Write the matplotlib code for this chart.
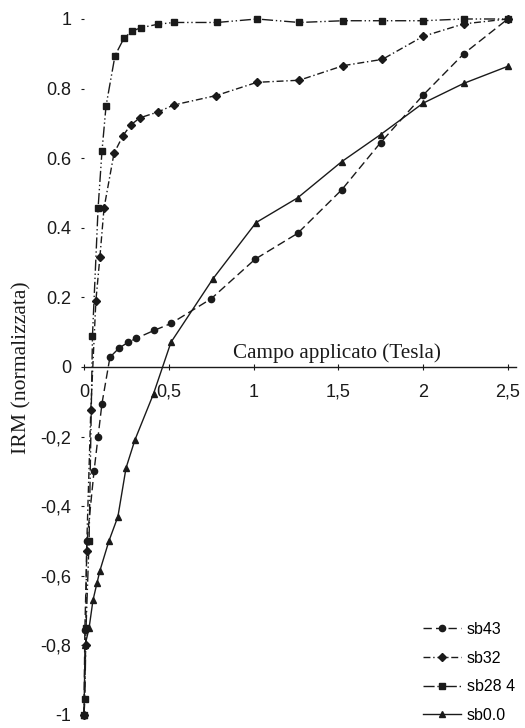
import matplotlib
matplotlib.use("Agg")
from matplotlib import pyplot as plt

# campo applicato (Tesla) / IRM normalizzata
x_sb43 = [0, 0.005, 0.018, 0.059, 0.083, 0.106, 0.153, 0.206, 0.26, 0.307, 0.413, 0.513,
          0.75, 1.01, 1.26, 1.52, 1.75, 2.0, 2.24, 2.5]
y_sb43 = [-1.0, -0.755, -0.5, -0.3, -0.2, -0.105, 0.028, 0.054, 0.071, 0.082, 0.105, 0.125,
          0.196, 0.31, 0.384, 0.509, 0.645, 0.781, 0.9, 1.0]

x_sb32 = [0, 0.01, 0.015, 0.04, 0.07, 0.094, 0.118, 0.177, 0.23, 0.277, 0.33, 0.437, 0.53,
          0.78, 1.02, 1.27, 1.53, 1.76, 2.0, 2.24, 2.5]
y_sb32 = [-1.0, -0.8, -0.53, -0.125, 0.19, 0.317, 0.456, 0.614, 0.665, 0.696, 0.716, 0.733,
          0.753, 0.78, 0.818, 0.824, 0.866, 0.884, 0.95, 0.986, 1.0]

x_sb28 = [0, 0.005, 0.012, 0.03, 0.05, 0.083, 0.106, 0.13, 0.183, 0.236, 0.283, 0.336, 0.437,
          0.53, 0.785, 1.02, 1.27, 1.53, 1.76, 2.0, 2.24, 2.5]
y_sb28 = [-1.0, -0.955, -0.75, -0.5, 0.09, 0.456, 0.62, 0.75, 0.895, 0.945, 0.965, 0.975,
          0.985, 0.99, 0.99, 1.0, 0.99, 0.995, 0.995, 0.995, 1.0, 1.0]

x_sb00 = [0, 0.006, 0.03, 0.053, 0.077, 0.094, 0.147, 0.2, 0.248, 0.3, 0.41, 0.513, 0.76,
          1.015, 1.26, 1.52, 1.75, 2.0, 2.24, 2.5]
y_sb00 = [-1.0, -0.8, -0.75, -0.67, -0.62, -0.585, -0.5, -0.43, -0.29, -0.21, -0.077, 0.071,
          0.253, 0.415, 0.486, 0.59, 0.668, 0.758, 0.815, 0.864]

xticks = [0, 0.5, 1, 1.5, 2, 2.5]
xtick_labels = ["0", "0,5", "1", "1,5", "2", "2,5"]
yticks = [1, 0.8, 0.6, 0.4, 0.2, 0, -0.2, -0.4, -0.6, -0.8, -1]
ytick_labels = ["1", "0.8", "0.6", "0.4", "0.2", "0", "-0,2", "-0,4", "-0,6", "-0,8", "-1"]

W, H = 525, 728
fig = plt.figure(figsize=(W / 100, H / 100), dpi=100)
ax = fig.add_axes([60 / W, 1 / H, 460 / W, 726 / H])
ax.set_xlim(-0.1416, 2.572)
ax.set_ylim(-1.0345, 1.0517)

ink = "#1a1a1a"
ax.plot(x_sb43, y_sb43, color=ink, lw=1.0, ls=(0, (6, 3)), marker="o", ms=4.5, label="sb43")
ax.plot(x_sb32, y_sb32, color=ink, lw=1.0, ls=(0, (5, 2, 1, 2)), marker="D", ms=4, label="sb32")
ax.plot(x_sb28, y_sb28, color=ink, lw=1.0, ls=(0, (8, 2, 1, 2, 1, 2)), marker="s", ms=4.5,
        label="sb28 4")
ax.plot(x_sb00, y_sb00, color=ink, lw=1.0, ls="-", marker="^", ms=5, label="sb0.0")

for s in ["top", "right"]:
    ax.spines[s].set_visible(False)
ax.spines["left"].set_position(("data", 0))
ax.spines["left"].set_visible(False)
ax.spines["bottom"].set_position(("data", 0))
ax.spines["bottom"].set_bounds(0, 2.55)
ax.spines["bottom"].set_color(ink)
ax.spines["bottom"].set_linewidth(1.0)

ax.set_xticks(xticks, xtick_labels, family="Liberation Sans", fontsize=13)
ax.set_yticks(yticks, ytick_labels, family="Liberation Sans", fontsize=13)
ax.tick_params(axis="x", direction="inout", length=4, width=0.8, pad=10, colors=ink)
ax.tick_params(axis="y", direction="out", length=2, width=0.8, pad=7, colors=ink)

ax.text(1.49, 0.012, "Campo applicato (Tesla)", family="Liberation Serif", fontsize=15.2,
        ha="center", va="bottom", color=ink)
fig.text(22 / W, 1 - 368 / H, "IRM (normalizzata)", family="Liberation Serif", fontsize=15.6,
         rotation=90, ha="center", va="center", color=ink)

leg = ax.legend(loc="upper left", bbox_to_anchor=(423 / W, 1 - 622 / H),
                bbox_transform=fig.transFigure, frameon=False, borderpad=0,
                borderaxespad=0, handlelength=2.4, handletextpad=0.35,
                labelspacing=0.85, prop={"family": "Liberation Sans", "size": 11.5})

fig.savefig("out.png", dpi=100)
